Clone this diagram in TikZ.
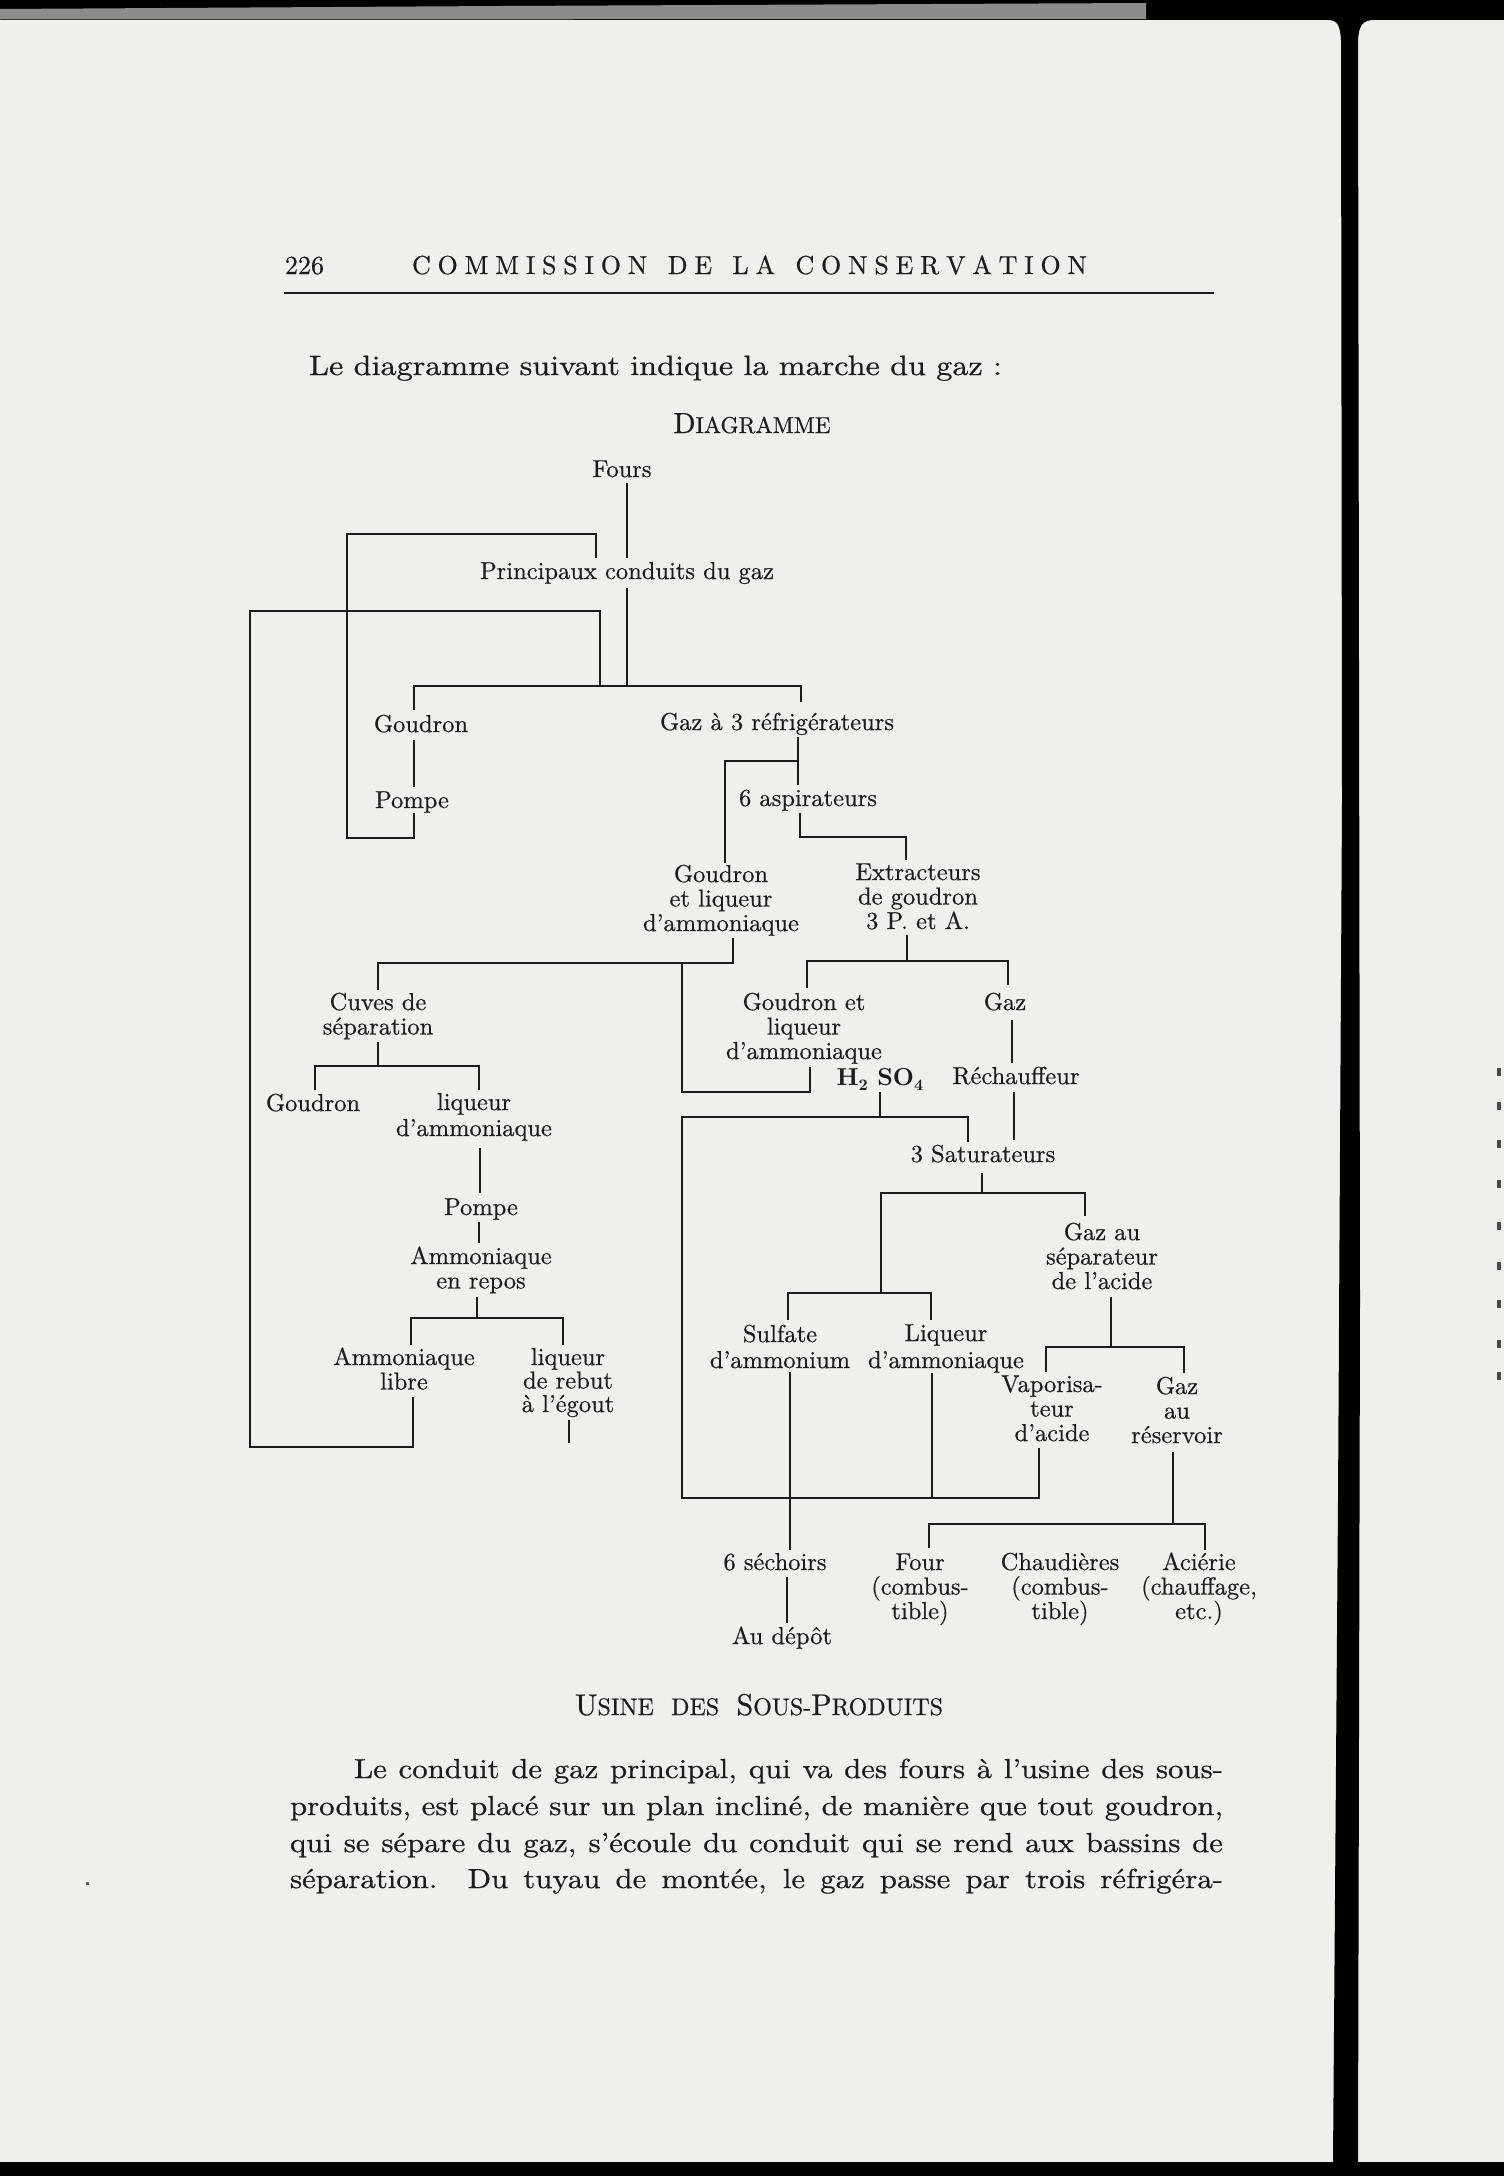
\documentclass[tikz,border=0pt]{standalone}
\definecolor{paper}{RGB}{239,239,236}
\definecolor{ink}{RGB}{28,28,28}
\definecolor{scang}{RGB}{140,140,140}
\font\dten="[lmroman10-regular]:mapping=tex-text;embolden=0.5" at 24.5pt
\font\dbf="[lmroman10-bold]:mapping=tex-text" at 24.5pt
\font\dsub="[lmroman10-bold]:mapping=tex-text" at 16pt
\font\bten="[lmroman10-regular]:mapping=tex-text;extend=1.12;embolden=0.6" at 27.5pt
\font\hten="[lmroman10-regular]:mapping=tex-text;embolden=0.5" at 26pt
\font\iten="[lmroman10-regular]:mapping=tex-text;extend=1.15;embolden=0.6" at 28pt
\font\scA="[lmroman10-regular]:mapping=tex-text;embolden=0.5" at 29pt
\font\scB="[lmroman10-regular]:mapping=tex-text;embolden=0.5" at 23pt
\font\scC="[lmroman10-regular]:mapping=tex-text;embolden=0.5" at 30pt
\font\scD="[lmroman10-regular]:mapping=tex-text;embolden=0.5" at 24pt
\newcommand\ml[2][24.5pt]{\vtop{\baselineskip=#1\lineskiplimit=-100pt\lineskip=0pt\halign{\hfil##\hfil\cr#2\crcr}}}
\begin{document}
\begin{tikzpicture}[x=1pt,y=-1pt,
  t/.style={anchor=base,inner sep=0pt,outer sep=0pt,font=\dten,text=ink},
  body/.style={anchor=base west,inner sep=0pt,outer sep=0pt,font=\bten,text=ink},
  wire/.style={draw=ink,line width=1.7pt}]
\useasboundingbox (0,0) rectangle (1504,2176);
% ---- scanned page surroundings ----
\fill[paper] (0,0) rectangle (1504,2176);
\fill[black] (0,0) rectangle (1504,20);
\fill[scang] (0,9) -- (500,6) -- (1146,3) -- (1146,19) -- (0,19.5) -- cycle;
\fill[black] (1328,20) .. controls (1338,20) and (1340,26) .. (1341,40) -- (1342,800)
  -- (1338,1500) -- (1333,2162) -- (1358,2162) -- (1360,1300) -- (1358,40)
  .. controls (1359,26) and (1362,20) .. (1374,20) -- cycle;
\fill[black] (0,2162) rectangle (1504,2176);
\foreach \yy in {1068,1102,1140,1180,1222,1262,1300,1340,1372}
  \fill[ink!80] (1497,\yy) rectangle (1501,\yy+8);
\fill[ink!70] (86,1882) rectangle (89,1885);
% ---- header ----
\node[body,font=\hten] (pgno) at (285,274) {226};
\node[body,font=\hten] (hdr) at (412,274) {\hbox to 675pt{C\hfil O\hfil M\hfil M\hfil I\hfil S\hfil S\hfil I\hfil O\hfil N\hskip0pt plus3fil\relax D\hfil E\hskip0pt plus3fil\relax L\hfil A\hskip0pt plus3fil\relax C\hfil O\hfil N\hfil S\hfil E\hfil R\hfil V\hfil A\hfil T\hfil I\hfil O\hfil N}};
\coordinate (hr-l) at (284,293);
\coordinate (hr-r) at (1214,293);
\draw[draw=ink,line width=2.6pt] (hr-l) -- (hr-r);
\node[body,font=\iten] (intro) at (309,375) {\hbox to 693pt{Le diagramme suivant indique la marche du gaz\ :}};
\node[t,font=\scA] (title) at (752,433) {D\scB IAGRAMME};
% ---- diagram nodes ----
\node[t] (fours) at (622,477) {Fours};
\node[t] (princ) at (627,579) {Principaux conduits du gaz};
\node[t] (goud1) at (421,732) {Goudron};
\node[t] (pomp1) at (412,808) {Pompe};
\node[t] (gaz3) at (777,730) {Gaz à 3 réfrigérateurs};
\node[t] (asp) at (808,806) {6 aspirateurs};
\node[t] (gla) at (721,882) {\ml{Goudron\cr et liqueur\cr d’ammoniaque}};
\node[t] (extr) at (918,880) {\ml{Extracteurs\cr de goudron\cr 3 P. et A.}};
\node[t] (cuves) at (378,1010) {\ml{Cuves de\cr séparation}};
\node[t] (glb) at (804,1010) {\ml{Goudron et\cr liqueur\cr d’ammoniaque}};
\node[t] (gaz) at (1005,1010) {Gaz};
\node[t] (goud2) at (313,1111) {Goudron};
\node[t] (liq1) at (474,1110) {\ml[26pt]{liqueur\cr d’ammoniaque}};
\node[t] (h2so4) at (880,1085) {\dbf H\lower5pt\hbox{\dsub 2}\ SO\lower5pt\hbox{\dsub 4}};
\node[t] (rech) at (1016,1084) {Réchauffeur};
\node[t] (pomp2) at (481,1215) {Pompe};
\node[t] (sat) at (983,1162) {3 Saturateurs};
\node[t] (repos) at (481,1264) {\ml{Ammoniaque\cr en repos}};
\node[t] (gazsep) at (1102,1240) {\ml{Gaz au\cr séparateur\cr de l’acide}};
\node[t] (sulf) at (780,1342) {\ml[26pt]{Sulfate\cr d’ammonium}};
\node[t] (liq2) at (946,1341) {\ml[27pt]{Liqueur\cr d’ammoniaque}};
\node[t] (libre) at (404,1365) {\ml{Ammoniaque\cr libre}};
\node[t] (rebut) at (568,1365) {\ml[23.5pt]{liqueur\cr de rebut\cr à l’égout}};
\node[t] (vapo) at (1052,1392) {\ml{Vaporisa-\cr teur\cr d’acide}};
\node[t] (gazres) at (1177,1394) {\ml{Gaz\cr au\cr réservoir}};
\node[t] (sech) at (775,1570) {6 séchoirs};
\node[t] (four) at (920,1570) {\ml{Four\cr (combus-\cr tible)}};
\node[t] (chaud) at (1060,1570) {\ml{Chaudières\cr (combus-\cr tible)}};
\node[t] (acier) at (1199,1570) {\ml{Aciérie\cr (chauffage,\cr etc.)}};
\node[t] (depot) at (782,1644) {Au dépôt};
% ---- connector points ----
\coordinate (fo-b) at (627,483);  \coordinate (pc-t) at (627,558);
\coordinate (pc-b) at (627,588);  \coordinate (bar1) at (627,686);
\coordinate (b1a) at (596,558); \coordinate (b1b) at (596,534); \coordinate (b1c) at (347,534);
\coordinate (b1d) at (347,838); \coordinate (b1e) at (414,838); \coordinate (b1f) at (414,813);
\coordinate (b2a) at (600,686); \coordinate (b2b) at (600,611); \coordinate (b2c) at (250,611);
\coordinate (b2d) at (250,1447); \coordinate (b2e) at (413,1447); \coordinate (b2f) at (413,1397);
\coordinate (jb-l) at (414,686); \coordinate (jb-r) at (801,686);
\coordinate (gd1-t) at (414,710); \coordinate (gz3-t) at (801,702);
\coordinate (gd1-b) at (414,740); \coordinate (pp1-t) at (414,787);
\coordinate (gz3-b) at (798,737); \coordinate (asp-t) at (798,785);
\coordinate (br3l) at (725,761); \coordinate (br3r) at (798,761); \coordinate (gla-t) at (725,863);
\coordinate (asp-b) at (800,813); \coordinate (a1) at (800,837); \coordinate (a2) at (906,837); \coordinate (ext-t) at (906,860);
\coordinate (gla-b) at (733,938); \coordinate (b4r) at (733,963); \coordinate (b4l) at (378,963); \coordinate (cuv-t) at (378,990);
\coordinate (l1) at (682,963); \coordinate (l2) at (682,1092); \coordinate (l3) at (810,1092); \coordinate (glb-b) at (810,1067);
\coordinate (ext-b) at (907,935); \coordinate (b5m) at (907,961); \coordinate (b5l) at (807,961); \coordinate (b5r) at (1008,961);
\coordinate (glb-t) at (807,988); \coordinate (gaz-t) at (1008,985);
\coordinate (cuv-b) at (378,1042); \coordinate (b6m) at (378,1066); \coordinate (b6l) at (315,1066); \coordinate (b6r) at (479,1066);
\coordinate (gd2-t) at (315,1090); \coordinate (lq1-t) at (479,1090);
\coordinate (lq1-b) at (480,1148); \coordinate (pp2-t) at (480,1193);
\coordinate (gaz-b) at (1012,1020); \coordinate (rch-t) at (1012,1063);
\coordinate (h2-b) at (880,1092); \coordinate (b7m) at (880,1117); \coordinate (b7l) at (682,1117); \coordinate (b7r) at (968,1117); \coordinate (sat-t) at (968,1142);
\coordinate (bl-b) at (682,1498); \coordinate (bl-r) at (1039,1498); \coordinate (vap-b) at (1039,1448);
\coordinate (rch-b) at (1014,1092); \coordinate (sat-t2) at (1014,1140);
\coordinate (sat-b) at (982,1173); \coordinate (b8m) at (982,1193); \coordinate (b8l) at (881,1193); \coordinate (b8r) at (1085,1193); \coordinate (gsp-t) at (1085,1216);
\coordinate (b9m) at (881,1293); \coordinate (b9l) at (788,1293); \coordinate (b9r) at (931,1293); \coordinate (sul-t) at (788,1320); \coordinate (lq2-t) at (931,1320);
\coordinate (pp2-b) at (479,1222); \coordinate (rep-t) at (479,1243);
\coordinate (rep-b) at (477,1297); \coordinate (b10m) at (477,1318); \coordinate (b10l) at (411,1318); \coordinate (b10r) at (563,1318);
\coordinate (lib-t) at (411,1345); \coordinate (reb-t) at (563,1345);
\coordinate (sul-b) at (790,1372); \coordinate (sch-t) at (790,1550);
\coordinate (lq2-b) at (932,1373); \coordinate (bl-q) at (932,1498);
\coordinate (gsp-b) at (1111,1297); \coordinate (b11m) at (1111,1347); \coordinate (b11l) at (1046,1347); \coordinate (b11r) at (1184,1347);
\coordinate (vap-t) at (1046,1372); \coordinate (grs-t) at (1184,1373);
\coordinate (grs-b) at (1173,1452); \coordinate (b12m) at (1173,1524); \coordinate (b12l) at (929,1524); \coordinate (b12r) at (1205,1524);
\coordinate (fou-t) at (929,1548); \coordinate (aci-t) at (1205,1550);
\coordinate (sch-b) at (787,1577); \coordinate (dep-t) at (787,1623);
\coordinate (reb-b) at (569,1420); \coordinate (reb-e) at (569,1443);
% ---- connectors ----
\draw[wire] (fo-b) -- (pc-t);
\draw[wire] (pc-b) -- (bar1);
\draw[wire] (b1a) -- (b1b) -- (b1c) -- (b1d) -- (b1e) -- (b1f);
\draw[wire] (b2a) -- (b2b) -- (b2c) -- (b2d) -- (b2e) -- (b2f);
\draw[wire] (gd1-t) -- (jb-l) -- (jb-r) -- (gz3-t);
\draw[wire] (gd1-b) -- (pp1-t);
\draw[wire] (gz3-b) -- (asp-t);
\draw[wire] (br3r) -- (br3l) -- (gla-t);
\draw[wire] (asp-b) -- (a1) -- (a2) -- (ext-t);
\draw[wire] (gla-b) -- (b4r) -- (b4l) -- (cuv-t);
\draw[wire] (l1) -- (l2) -- (l3) -- (glb-b);
\draw[wire] (ext-b) -- (b5m);
\draw[wire] (glb-t) -- (b5l) -- (b5r) -- (gaz-t);
\draw[wire] (cuv-b) -- (b6m);
\draw[wire] (gd2-t) -- (b6l) -- (b6r) -- (lq1-t);
\draw[wire] (lq1-b) -- (pp2-t);
\draw[wire] (gaz-b) -- (rch-t);
\draw[wire] (h2-b) -- (b7m);
\draw[wire] (sat-t) -- (b7r) -- (b7l) -- (bl-b) -- (bl-r) -- (vap-b);
\draw[wire] (rch-b) -- (sat-t2);
\draw[wire] (sat-b) -- (b8m);
\draw[wire] (gsp-t) -- (b8r) -- (b8l) -- (b9m);
\draw[wire] (sul-t) -- (b9l) -- (b9r) -- (lq2-t);
\draw[wire] (pp2-b) -- (rep-t);
\draw[wire] (rep-b) -- (b10m);
\draw[wire] (lib-t) -- (b10l) -- (b10r) -- (reb-t);
\draw[wire] (sul-b) -- (sch-t);
\draw[wire] (lq2-b) -- (bl-q);
\draw[wire] (gsp-b) -- (b11m);
\draw[wire] (vap-t) -- (b11l) -- (b11r) -- (grs-t);
\draw[wire] (grs-b) -- (b12m);
\draw[wire] (fou-t) -- (b12l) -- (b12r) -- (aci-t);
\draw[wire] (sch-b) -- (dep-t);
\draw[wire] (reb-b) -- (reb-e);
% ---- text below ----
\node[body] (usine) at (575,1715) {\hbox to 368pt{\scC U\scD SINE DES \scC S\scD OUS-\scC P\scD RODUITS}};
\node[body] (p1) at (354,1778) {\hbox to 869pt{Le conduit de gaz principal, qui va des fours à l’usine des sous-}};
\node[body] (p2) at (290,1815) {\hbox to 933pt{produits, est placé sur un plan incliné, de manière que tout goudron,}};
\node[body] (p3) at (290,1852) {\hbox to 933pt{qui se sépare du gaz, s’écoule du conduit qui se rend aux bassins de}};
\node[body] (p4) at (290,1888) {\hbox to 933pt{séparation.\ \ Du tuyau de montée, le gaz passe par trois réfrigéra-}};
\end{tikzpicture}
\end{document}
